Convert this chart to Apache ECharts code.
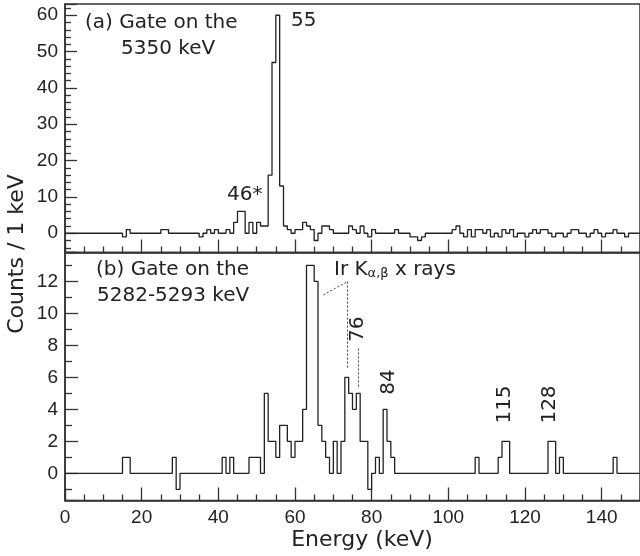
<!DOCTYPE html>
<html><head><meta charset="utf-8">
<script src="https://cdn.jsdelivr.net/npm/echarts@6.0.0/dist/echarts.min.js"></script>
<style>html,body{margin:0;padding:0;background:#fff}#c{width:640px;height:556px}</style>
</head><body><div id="c"></div>
<script>
// Bins are 1 keV wide, lower edges 0..149 keV
const binEdgesStart = 0;
const binWidth = 1;
// (a) Gate on the 5350 keV
const countsA = [
  0,0,0,0,0,0,0,0,0,0,
  0,0,0,0,0,-1,1,0,0,0,
  0,0,0,0,0,1,1,0,0,0,
  0,0,0,0,0,-1,0,1,0,1,
  0,0,1,0,3,6,6,0,3,0,
  3,2,2,16,47,60,13,2,1,0,
  1,1,3,2,1,-2,0,2,2,1,
  0,0,0,0,2,1,0,2,0,-1,
  1,0,0,0,0,0,1,0,0,0,
  -1,-1,-2,-1,0,0,0,0,0,0,
  0,1,2,0,-1,1,-1,1,1,0,
  1,-1,0,-1,1,0,1,-1,0,0,
  -1,0,1,0,1,1,0,-1,0,0,
  -1,0,1,1,0,0,-1,0,1,0,
  -1,0,0,1,0,0,-1,0,0,0
];
// (b) Gate on the 5282-5293 keV
const countsB = [
  0,0,0,0,0,0,0,0,0,0,
  0,0,0,0,0,1,1,0,0,0,
  0,0,0,0,0,0,0,0,1,-1,
  0,0,0,0,0,0,0,0,0,0,
  0,1,0,1,0,0,0,0,1,1,
  1,0,5,2,2,1,3,3,2,1,
  2,2,4,13,13,12,3,2,1,0,
  2,0,2,6,5,4,5,2,2,-1,
  0,1,0,4,2,1,0,0,0,0,
  0,0,0,0,0,0,0,0,0,0,
  0,0,0,0,0,0,0,1,0,0,
  0,0,0,1,2,2,0,0,0,0,
  0,0,0,0,0,0,2,2,0,1,
  0,0,0,0,0,0,0,0,0,0,
  0,0,0,1,0,0,0,0,0,0
];
const xRange = [0, 150];
const yRangeA = [-5.3, 63.1];
const yRangeB = [-1.7, 13.8];
const peakLabelsB = [
  {text: '76', e: 76.4, y: 9.0},
  {text: '84', e: 84.4, y: 5.7},
  {text: '115', e: 114.8, y: 4.3},
  {text: '128', e: 126.4, y: 4.3}
];

function toSteps(counts) {
  const pts = counts.map((v, i) => [binEdgesStart + i * binWidth, v]);
  pts.push([binEdgesStart + counts.length * binWidth, counts[counts.length - 1]]);
  return pts;
}

const FONT = 'DejaVu Sans';
const TICKFONT = 'Liberation Sans';
const INK = '#222';
const ANN = 20;

const chart = echarts.init(document.getElementById('c'), null, {renderer: 'canvas'});

function xAxisCfg(gridIndex, showLabels) {
  return {
    gridIndex, type: 'value', min: xRange[0], max: xRange[1], interval: 20,
    axisLine: {show: true, onZero: false, lineStyle: {color: '#333', width: 1.5}},
    axisTick: {show: true, inside: true, length: 13, lineStyle: {color: '#333', width: 1.3}},
    minorTick: {show: true, splitNumber: 4, length: 6, lineStyle: {color: '#333', width: 1.3}},
    splitLine: {show: false}, minorSplitLine: {show: false},
    axisLabel: {show: showLabels, color: INK, fontFamily: TICKFONT, fontSize: 19, margin: 8,
      showMaxLabel: false,
      formatter: v => (v % 20 === 0 && v <= 140) ? String(v) : ''}
  };
}
function yAxisCfg(gridIndex, range, split, minorSplit, labelStep, majorLen, minorLen) {
  return {
    gridIndex, type: 'value', min: range[0], max: range[1], splitNumber: split,
    axisLine: {show: true, onZero: false, lineStyle: {color: '#333', width: 1.5}},
    axisTick: {show: true, inside: true, length: majorLen, lineStyle: {color: '#333', width: 1.3}},
    minorTick: {show: true, splitNumber: minorSplit, length: minorLen, lineStyle: {color: '#333', width: 1.3}},
    splitLine: {show: false}, minorSplitLine: {show: false},
    axisLabel: {color: INK, fontFamily: TICKFONT, fontSize: 19, margin: 7,
      formatter: v => (Math.abs(v - Math.round(v)) < 1e-6 && Math.round(v) % labelStep === 0) ? String(Math.round(v)) : ''}
  };
}

const dotted = {color: '#444', width: 1, type: [2, 2]};

const option = {
  animation: false,
  backgroundColor: '#fff',
  grid: [
    {left: 65, top: 4, width: 582, height: 248.5, show: true, borderColor: '#333', borderWidth: 1.5, backgroundColor: 'transparent'},
    {left: 65, top: 252.5, width: 582, height: 248, show: true, borderColor: '#333', borderWidth: 1.5, backgroundColor: 'transparent'}
  ],
  xAxis: [xAxisCfg(0, false), xAxisCfg(1, true)],
  yAxis: [
    yAxisCfg(0, yRangeA, 7, 5, 10, 12, 6),
    yAxisCfg(1, yRangeB, 8, 2, 2, 13, 7)
  ],
  series: [
    {type: 'line', xAxisIndex: 0, yAxisIndex: 0, step: 'end', showSymbol: false, symbol: 'none',
     lineStyle: {color: INK, width: 1.3}, data: toSteps(countsA), clip: true},
    {type: 'line', xAxisIndex: 1, yAxisIndex: 1, step: 'end', showSymbol: false, symbol: 'none',
     lineStyle: {color: INK, width: 1.3}, data: toSteps(countsB), clip: true,
     markLine: {silent: true, symbol: 'none', label: {show: false}, lineStyle: dotted,
       data: [
         [{coord: [67.4, 11.15]}, {coord: [73.7, 11.98]}],
         [{coord: [73.7, 11.98]}, {coord: [73.7, 6.56]}],
         [{coord: [76.4, 7.8]}, {coord: [76.4, 5.4]}]
       ]}}
  ],
  graphic: []
};
chart.setOption(option);

function txt(x, y, text, opts) {
  const size = (opts && opts.size) || ANN;
  return Object.assign({type: 'text', x, y, silent: true,
    style: Object.assign({text, fill: INK, font: size + 'px "' + FONT + '"', fontSize: size, fontFamily: FONT,
      align: 'left', verticalAlign: 'middle'}, (opts && opts.style) || {})},
    opts && opts.rotation ? {rotation: opts.rotation} : {});
}

const g = [];
g.push(txt(85, 23, '(a) Gate on the'));
g.push(txt(121, 49, '5350 keV'));
g.push(txt(291, 21, '55'));
g.push(txt(227, 195, '46*'));
g.push(txt(96, 270, '(b) Gate on the'));
g.push(txt(97, 296, '5282-5293 keV'));
g.push({type: 'text', x: 334, y: 268, silent: true, style: {
  text: '{a|Ir K}{s|α,β}{a| x rays}', fill: INK, align: 'left', verticalAlign: 'middle',
  rich: {
    a: {fontSize: ANN, fontFamily: FONT, fill: INK, lineHeight: 24, verticalAlign: 'bottom'},
    s: {fontSize: 13, fontFamily: FONT, fill: INK, lineHeight: 24, verticalAlign: 'bottom', padding: [8, 0, 0, 0]}
  }}});
peakLabelsB.forEach(p => {
  const px = chart.convertToPixel({xAxisIndex: 1, yAxisIndex: 1}, [p.e, p.y]);
  g.push(txt(px[0], px[1], p.text, {rotation: Math.PI / 2, style: {align: 'center'}}));
});
g.push(txt(17, 254, 'Counts / 1 keV', {size: 22, rotation: Math.PI / 2, style: {align: 'center'}}));
g.push(txt(362, 540, 'Energy (keV)', {size: 22, style: {align: 'center'}}));
chart.setOption({graphic: g});
</script>
</body></html>
